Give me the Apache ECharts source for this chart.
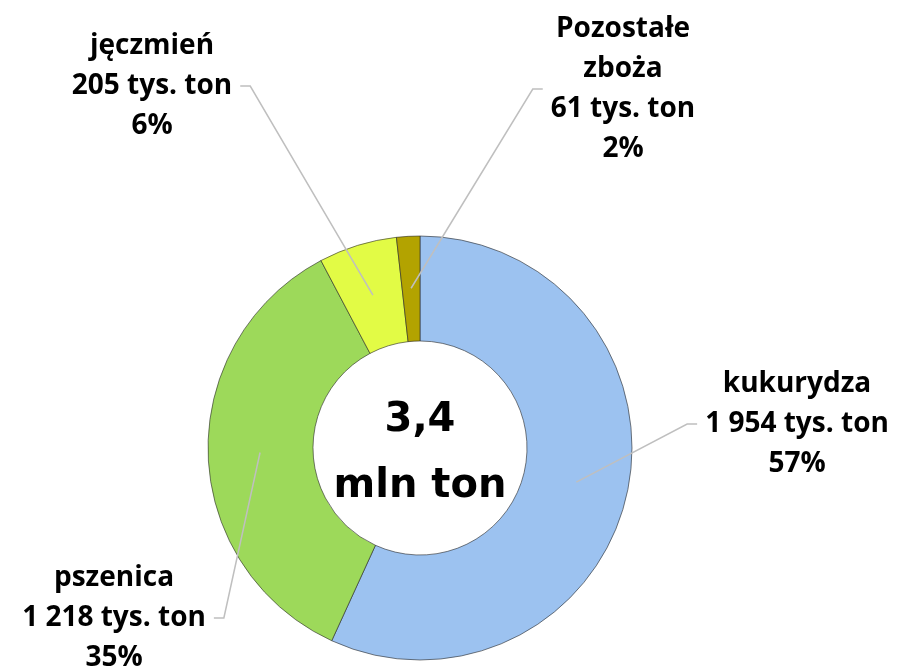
<!DOCTYPE html>
<html>
<head>
<meta charset="utf-8">
<script src="https://cdn.jsdelivr.net/npm/echarts@6/dist/echarts.min.js"></script>
<style>
html, body { margin: 0; padding: 0; background: #fff; }
#chart { width: 908px; height: 670px; }
</style>
</head>
<body>
<div id="chart"></div>
<script>
// dane: zbiory (tys. ton)
var categories = ['kukurydza', 'pszenica', 'jęczmień', 'Pozostałe\nzboża'];
var values = [1954, 1218, 205, 61];
var sliceColors = ['#9CC2F0', '#9DD95A', '#E2FB45', '#B3A300'];
var centerText = ['3,4', 'mln ton'];

var chart = echarts.init(document.getElementById('chart'));

function fmtThousands(v) {
  return String(v).replace(/\B(?=(\d{3})+(?!\d))/g, ' ');
}

var pieData = categories.map(function (c, i) {
  return { name: c, value: values[i], itemStyle: { color: sliceColors[i] } };
});

// pozycje etykiet (srodek bloku tekstu)
var labelPos = [[797, 424], [114, 618], [152, 86], [623, 89]];

var option = {
  backgroundColor: '#fff',
  animation: false,
  graphic: [{
    type: 'text',
    x: 420,
    y: 454,
    z: 10,
    style: {
      text: centerText.join('\n'),
      align: 'center',
      verticalAlign: 'middle',
      fontFamily: 'DejaVu Sans',
      fontWeight: 'bold',
      fontSize: 40,
      lineHeight: 66,
      fill: '#000'
    }
  }],
  series: [
    {
      type: 'pie',
      center: [420, 448],
      radius: [107, 212],
      startAngle: 90,
      clockwise: true,
      silent: true,
      label: { show: false },
      labelLine: { show: false },
      itemStyle: {
        borderColor: 'rgba(40,40,40,0.6)',
        borderWidth: 1
      },
      data: pieData
    },
    {
      // przezroczysta seria tylko dla etykiet i linii odniesienia
      type: 'pie',
      center: [420, 448],
      radius: [0, 160],
      startAngle: 90,
      clockwise: true,
      silent: true,
      z: 5,
      percentPrecision: 0,
      itemStyle: { color: 'rgba(0,0,0,0)' },
      label: {
        show: true,
        position: 'outside',
        formatter: function (p) {
          return p.name + '\n' + fmtThousands(p.value) + ' tys. ton\n' + p.percent + '%';
        },
        fontFamily: 'Open Sans',
        fontWeight: 'bold',
        fontSize: 28,
        lineHeight: 40,
        color: '#000',
        align: 'center',
        padding: [0, 8]
      },
      labelLine: {
        show: true,
        length: 10,
        length2: 10,
        lineStyle: { color: '#BFBFBF', width: 1.5 }
      },
      labelLayout: function (p) {
        var pos = labelPos[p.dataIndex];
        return { x: pos[0], y: pos[1], align: 'center', verticalAlign: 'middle' };
      },
      data: categories.map(function (c, i) { return { name: c, value: values[i] }; })
    }
  ]
};

chart.setOption(option);
window.addEventListener('resize', function () { chart.resize(); });
</script>
</body>
</html>
